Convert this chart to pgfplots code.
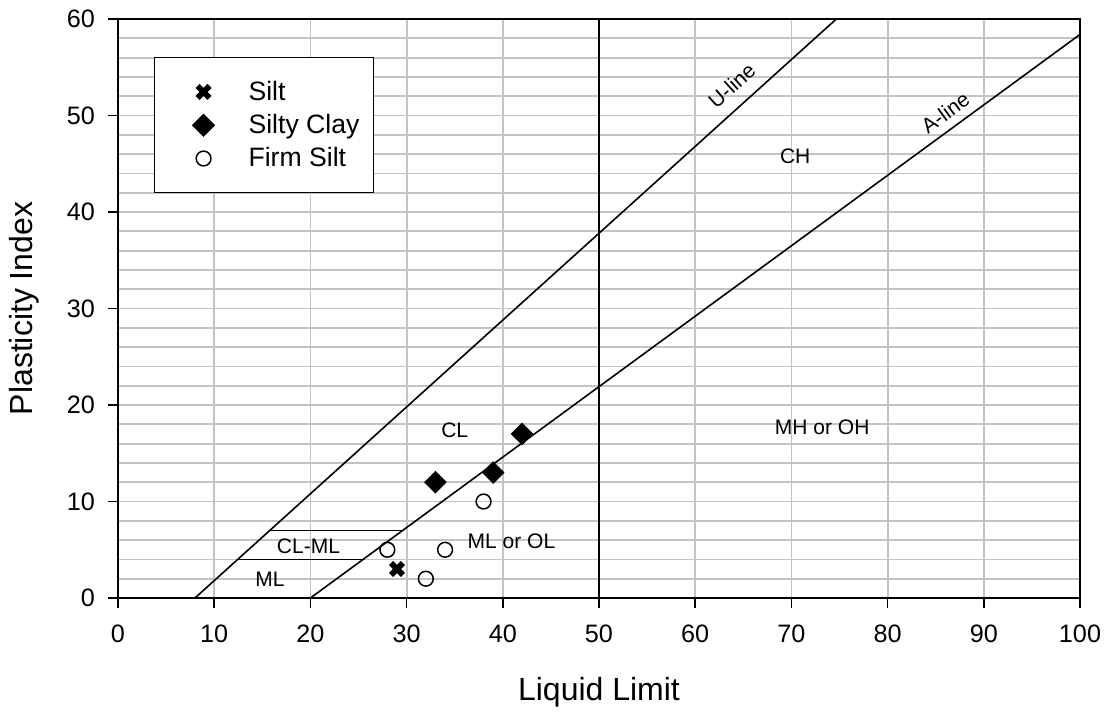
\documentclass[border=0pt]{standalone}
\usepackage{pgfplots}
\pgfplotsset{compat=1.18}
\usepackage{fontspec}
\setmainfont{Liberation Sans}
\definecolor{gridgray}{RGB}{195,195,195}
\begin{document}
\begin{tikzpicture}
\useasboundingbox (-59pt,-58pt) rectangle (495.5pt,299pt);
\begin{axis}[
  scale only axis, width=481pt, height=289.5pt,
  xmin=0, xmax=100, ymin=0, ymax=60,
  xtick={0,10,...,100}, ytick={0,10,...,60},
  minor ytick={2,4,...,58},
  xmajorgrids, ymajorgrids, yminorgrids,
  grid style={gridgray, line width=0.9pt},
  minor grid style={gridgray, line width=0.9pt},
  minor tick length=0pt,
  tick align=outside, tick pos=left, major tick length=5pt,
  tick style={black, line width=0.8pt},
  axis line style={black, line width=0.8pt},
  /pgf/number format/assume math mode=true,
  ticklabel style={font=\fontsize{12.6}{14}\selectfont},
  xticklabel style={yshift=-5pt},
  yticklabel style={xshift=-3pt},
  xlabel={Liquid Limit}, ylabel={Plasticity Index},
  label style={font=\fontsize{16}{19}\selectfont},
  xlabel style={at={(axis description cs:0.5,0)}, anchor=center, yshift=-47pt},
  ylabel style={at={(axis description cs:0,0.5)}, anchor=center, xshift=0pt, yshift=47pt},
  legend style={at={(axis description cs:0.0374,0.934)}, anchor=north west,
    draw=black, line width=0.6pt, font=\fontsize{13.3}{15}\selectfont,
    inner xsep=5pt, inner ysep=9.5pt, row sep=1.5pt,
    /tikz/every odd column/.append style={column sep=8.5pt},
    /tikz/every even column/.append style={column sep=34pt}},
  legend cell align=left,
  legend image code/.code={\path[draw=none,fill=none] (-19.5pt,0) -- (12pt,0); \draw[#1] plot coordinates {(0pt,0pt)};},
  axis on top=false,
]
% reference lines
\addplot[black, line width=0.8pt, forget plot] coordinates {(20,0) (100,58.4)};
\addplot[black, line width=0.8pt, forget plot] coordinates {(8,0) (74.67,60)};
\addplot[black, line width=0.8pt, forget plot] coordinates {(50,0) (50,60)};
\addplot[black, line width=0.8pt, forget plot] coordinates {(15.78,7) (29.59,7)};
\addplot[black, line width=0.8pt, forget plot] coordinates {(12.44,4) (25.48,4)};
% data
\addplot[only marks, mark=x, mark size=4.2pt, mark options={black, line width=2.9pt}] coordinates {(29,3)};
\addlegendentry{Silt}
\addplot[only marks, mark=square*, mark size=3.8pt, mark options={black, fill=black, rotate=45}] coordinates {(33,12) (39,13) (42,17)};
\addlegendentry{Silty Clay}
\addplot[only marks, mark=o, mark size=3.7pt, mark options={black, fill=white, line width=0.75pt}] coordinates {(28,5) (34,5) (32,2) (38,10)};
\addlegendentry{Firm Silt}
% zone labels
\begin{scope}[every node/.style={font=\fontsize{10.5}{12}\selectfont}]
\node at (axis cs:35,17.4) {CL};
\node at (axis cs:70.4,45.8) {CH};
\node at (axis cs:73.2,17.7) {MH or OH};
\node at (axis cs:40.9,5.9) {ML or OL};
\node at (axis cs:19.8,5.4) {CL-ML};
\node at (axis cs:15.8,1.9) {ML};
\node[rotate=42] at (axis cs:63.8,53.1) {U-line};
\node[rotate=36] at (axis cs:86,50.3) {A-line};
\end{scope}
\end{axis}
\end{tikzpicture}
\end{document}
